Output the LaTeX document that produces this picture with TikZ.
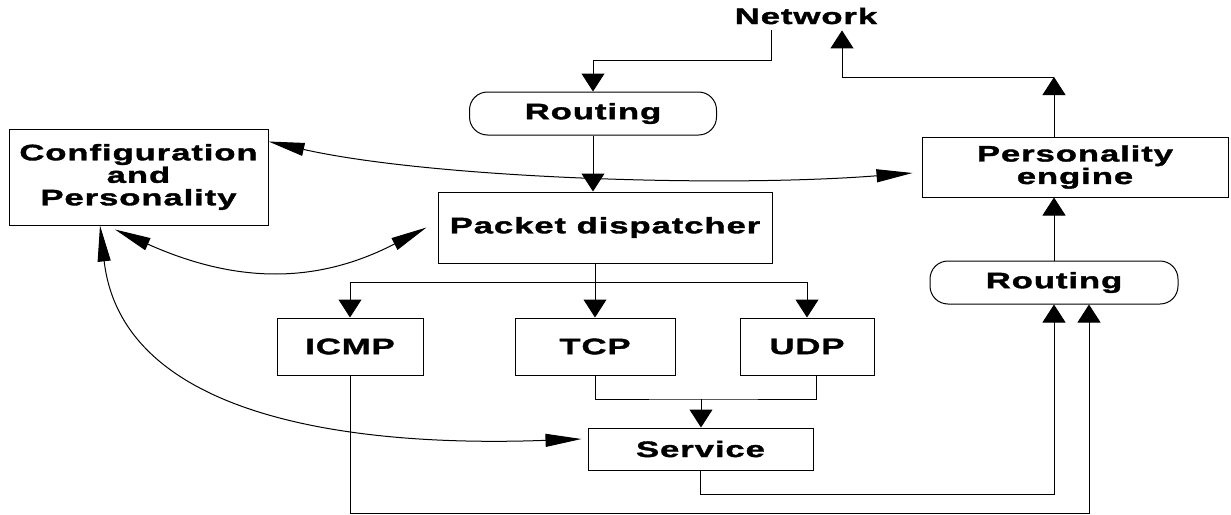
\documentclass[tikz,border=0pt]{standalone}
\usepackage{fontspec}
\newfontfamily\diafont{Liberation Sans}[FakeStretch=1.55,LetterSpace=4,FakeBold=1.6]
\usetikzlibrary{arrows.meta}

\begin{document}
\begin{tikzpicture}[
    x=1pt, y=-1pt,
    font={\diafont\bfseries\fontsize{22.4}{22.5}\selectfont},
    box/.style={draw, line width=1pt, inner sep=0pt, align=center},
    pill/.style={box, rounded corners=18pt},
    arr/.style={-{Triangle[length=18pt,width=23pt]}, line width=1pt},
    link/.style={{Triangle[length=36pt,width=13pt]}-{Triangle[length=36pt,width=13pt]}, line width=1pt}
]
\useasboundingbox (0,0) rectangle (1231,514);

% Boxes of the packet path
\node[inner sep=6pt] (net) at (806,16) {Network};
\node[pill, minimum width=247pt, minimum height=43pt] (rout1) at (593,113.5) {Routing};
\node[box, minimum width=259pt, minimum height=96pt] (config) at (138.5,177) {Configuration\\and\\Personality};
\node[box, minimum width=306pt, minimum height=60pt] (pe) at (1075,167) {Personality\\engine};
\node[box, minimum width=334pt, minimum height=71pt] (pd) at (605,227.5) {Packet dispatcher};
\node[pill, minimum width=248pt, minimum height=43pt] (rout2) at (1054,282.5) {Routing};

% Protocol handlers
\node[box, minimum width=146pt, minimum height=57pt] (icmp) at (350,346.5) {ICMP};
\node[box, minimum width=160pt, minimum height=57pt] (tcp) at (595,346.5) {TCP};
\node[box, minimum width=134pt, minimum height=57pt] (udp) at (807,346.5) {UDP};
\node[box, minimum width=225pt, minimum height=42pt] (service) at (700.5,449) {Service};

% Inbound and outbound network
\draw[arr] ([xshift=-35pt]net.south) -- ++(0,30) -| (rout1.north);
\coordinate (corner) at (1054,77);
\draw[arr] (pe.north -| corner) -- (corner);
\draw[arr] (corner) -| ([xshift=36pt]net.south);

% Dispatching
\draw[arr] (rout1.south) -- (rout1.south |- pd.north);
\coordinate (split) at (595,282);
\draw[line width=1pt] (pd.south -| split) -- (split);
\draw[arr] (split) -| (icmp.north);
\draw[arr] (split) -- (tcp.north);
\draw[arr] (split) -| (udp.north);

% Towards the service and back out
\coordinate (merge) at (701,399);
\draw[line width=1pt] (tcp.south) |- (merge) -| ([xshift=9pt]udp.south);
\draw[arr] (merge) -- (merge |- service.north);
\draw[arr] (service.south) -- ++(0,24) -| (rout2.south);
\draw[arr] (icmp.south) -- ++(0,138) -| ([xshift=35pt]rout2.south);
\draw[arr] (rout2.north) -- (rout2.north |- pe.south);

% Configuration links
\draw[link] ([yshift=-13pt]config.north east) .. controls (430,178) and (720,188) .. ([xshift=-9pt,yshift=-6pt]pe.west);
\draw[link] ([xshift=-23.5pt,yshift=-4pt]config.south) .. controls (237,284) and (317,284) .. ([xshift=-11pt]pd.west);
\draw[link] ([xshift=-38.5pt]config.south) .. controls (125,440) and (420,445) .. ([xshift=-6pt,yshift=10pt]service.west);

\end{tikzpicture}
\end{document}
